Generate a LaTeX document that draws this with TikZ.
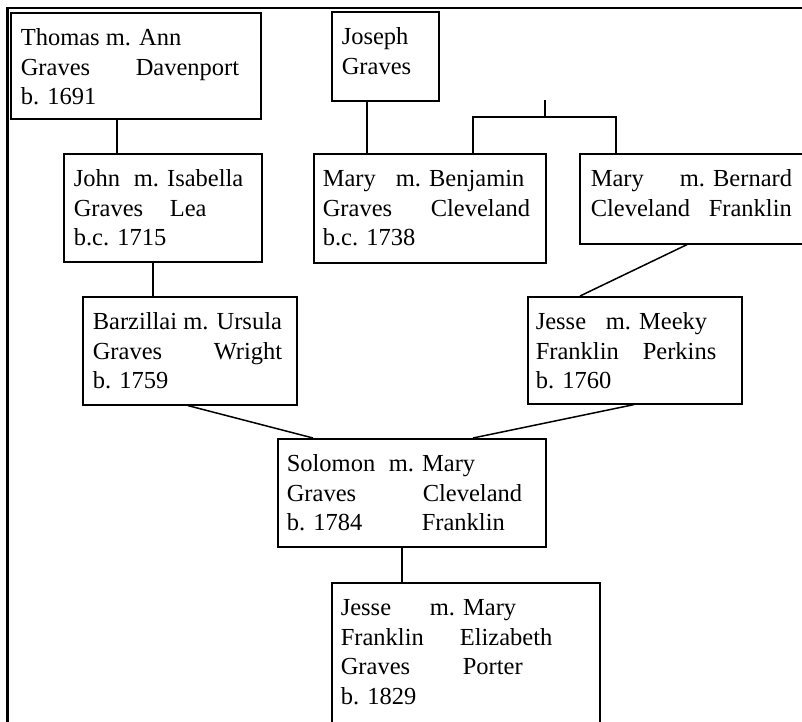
\documentclass[tikz,border=0pt]{standalone}
\usepackage{fontspec}
\setmainfont{Liberation Serif}
\newcommand{\tb}[3]{\makebox[#1pt][l]{#2}#3}
\newcommand{\famtxt}[4]{\parbox[t][#2pt][t]{#1pt}{\raggedright\leftskip=#3pt\relax\rule{0pt}{33pt}#4}}
\tikzset{
  fambox/.style={draw, line width=1.6pt, rectangle, inner sep=0pt, anchor=north west,
    font=\fontsize{24.5}{29.5}\selectfont},
  link/.style={line width=1.5pt},
  frameline/.style={line width=2.8pt}
}
\begin{document}
\begin{tikzpicture}[x=1pt,y=-1pt]
\useasboundingbox (0,0) rectangle (802,721);
\clip (0,0) rectangle (802,721);
\fill[white] (0,0) rectangle (802,721);
% frame
\coordinate (fTL) at (7.5,8);
\coordinate (fTR) at (805,8);
\coordinate (fBL) at (7.5,725);
\draw[frameline] (fTR) -- (fTL) -- (fBL);
% boxes
\node[fambox] (thomas) at (10,12) {\famtxt{250}{106}{10}{Thomas m. Ann\\ \tb{115}{Graves}{Davenport}\\ b. 1691}};
\node[fambox] (joseph) at (331,11) {\famtxt{107}{89}{10}{Joseph\\ Graves}};
\node[fambox] (john) at (63,153) {\famtxt{198}{108}{10}{\tb{60}{John}{m. Isabella}\\ \tb{96}{Graves}{Lea}\\ b.c. 1715}};
\node[fambox] (maryg) at (313,153) {\famtxt{232}{109}{9}{\tb{73}{Mary}{m. Benjamin}\\ \tb{108}{Graves}{Cleveland}\\ b.c. 1738}};
\node[fambox] (maryc) at (579,153) {\famtxt{235}{90}{11}{\tb{89}{Mary}{m. Bernard}\\ \tb{118}{Cleveland}{Franklin}}};
\node[fambox] (barz) at (82,296) {\famtxt{214}{108}{10}{Barzillai m. Ursula\\ \tb{121}{Graves}{Wright}\\ b. 1759}};
\node[fambox] (jessem) at (527,296) {\famtxt{214}{107}{8}{\tb{70}{Jesse}{m. Meeky}\\ \tb{107}{Franklin}{Perkins}\\ b. 1760}};
\node[fambox] (solomon) at (277,438) {\famtxt{268}{108}{9}{\tb{102}{Solomon}{m. Mary}\\ \tb{136}{Graves}{Cleveland}\\ \tb{135}{b. 1784}{Franklin}}};
\node[fambox] (jessef) at (331,582) {\famtxt{268}{160}{9}{\tb{89}{Jesse}{m. Mary}\\ \tb{119}{Franklin}{Elizabeth}\\ \tb{122}{Graves}{Porter}\\ b. 1829}};
% connectors
\draw[link] (117,0 |- thomas.south) -- (117,0 |- john.north);
\draw[link] (153,0 |- john.south) -- (153,0 |- barz.north);
\draw[link] (367,0 |- joseph.south) -- (367,0 |- maryg.north);
\coordinate (stub) at (545,100);
\coordinate (fork) at (545,117);
\draw[link] (stub) -- (fork);
\draw[link] (473,0 |- maryg.north) -- (473,0 |- fork) -- (616,0 |- fork) -- (616,0 |- maryc.north);
\draw[link] (687,0 |- maryc.south) -- (580,0 |- jessem.north);
\draw[link] (634,0 |- jessem.south) -- (473,0 |- solomon.north);
\draw[link] (188,0 |- barz.south) -- (313,0 |- solomon.north);
\draw[link] (402,0 |- solomon.south) -- (402,0 |- jessef.north);
\end{tikzpicture}
\end{document}
